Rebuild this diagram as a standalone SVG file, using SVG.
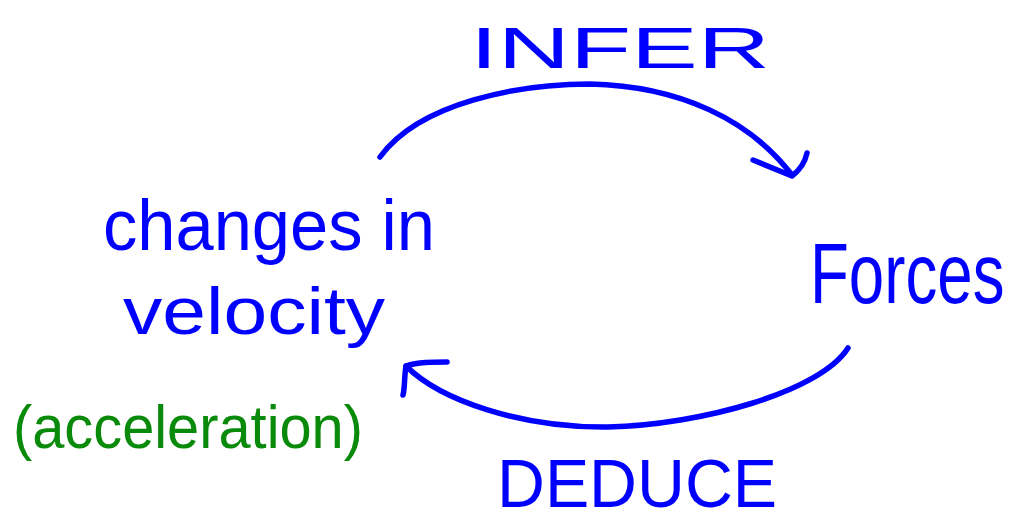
<svg xmlns="http://www.w3.org/2000/svg" width="1026" height="520" viewBox="0 0 1026 520">
  <style>
    .ink { fill: none; stroke: #0000ff; stroke-width: 5.5; stroke-linecap: round; stroke-linejoin: round; }
    .blue { fill: #0000ff; font-family: "Liberation Sans", "DejaVu Sans", sans-serif; }
    .green { fill: #0a8a0a; font-family: "Liberation Sans", "DejaVu Sans", sans-serif; }
  </style>
  <rect width="1026" height="520" fill="#ffffff"/>

  <!-- left node: changes in velocity (acceleration) -->
  <g id="node-velocity">
    <text class="blue" x="103" y="250" font-size="72" textLength="332" lengthAdjust="spacingAndGlyphs">changes in</text>
    <text class="blue" x="123" y="334" font-size="66" textLength="262" lengthAdjust="spacingAndGlyphs">velocity</text>
    <text class="green" x="13" y="448" font-size="62" textLength="350" lengthAdjust="spacingAndGlyphs">(acceleration)</text>
  </g>

  <!-- right node: forces (narrowed horizontally) -->
  <g id="node-forces" transform="translate(810,303) scale(0.74,1)">
    <text class="blue" x="0" y="0" font-size="86">Forces</text>
  </g>

  <!-- connectors -->
  <g id="connectors">
    <g id="edge-infer">
      <path class="ink" d="M380,157 C420,102 520,84 590,84 C680,86 750,120 792,175"/>
      <path class="ink" d="M753,160 L792,176 C800,170 805,162 807,153"/>
      <text class="blue" x="470" y="68" font-size="58" textLength="300" lengthAdjust="spacingAndGlyphs">INFER</text>
    </g>
    <g id="edge-deduce">
      <path class="ink" d="M848,348 C820,392 700,425 608,427 C520,428 440,400 406,366"/>
      <path class="ink" d="M447,362 C432,362 418,362 406,366 C404,378 405,388 403,395"/>
      <text class="blue" x="497" y="507" font-size="68" textLength="280" lengthAdjust="spacingAndGlyphs">DEDUCE</text>
    </g>
  </g>
</svg>
